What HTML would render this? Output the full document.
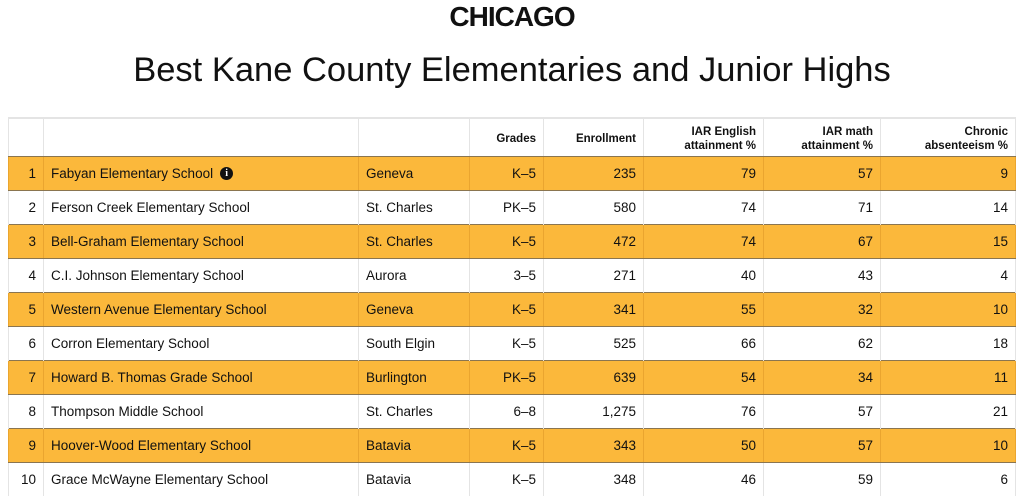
<!DOCTYPE html>
<html><head><meta charset="utf-8"><style>
html,body{margin:0;padding:0;background:#fff;width:1024px;height:497px;overflow:hidden;font-family:"Liberation Sans",sans-serif;color:#111}
.logo{position:absolute;top:1px;left:0;width:1024px;text-align:center;font-weight:bold;font-size:28px;letter-spacing:-1px;line-height:32px}
.title{position:absolute;top:50px;left:0;width:1024px;text-align:center;font-size:34.5px;line-height:40px;color:#111}
table{position:absolute;top:117px;left:8px;width:1007px;border-collapse:collapse;table-layout:fixed;font-size:13.5px}
th,td{border-left:1px solid #e4e4e4;border-right:1px solid #e4e4e4;padding:0 7px;white-space:nowrap;overflow:visible}
th{height:35px;font-size:11.5px;font-weight:bold;text-align:right;vertical-align:middle;line-height:14px;border-top:2px solid #e4e4e4;padding-top:2px;padding-bottom:0}
td{height:33px}
tr.o td{background:#fbb83b;border-top:1px solid #8a7550;border-bottom:1px solid #8a7550;border-left-color:#eaa52f;border-right-color:#eaa52f}
thead tr th{border-bottom:1px solid #8a7550}
.r{text-align:right}.l{text-align:left}
.i{display:inline-block;width:13px;height:13px;border-radius:50%;background:#111;color:#fff;font-size:10px;font-weight:bold;text-align:center;line-height:13px;margin-left:7px;vertical-align:middle;position:relative;top:-1px;font-family:"Liberation Serif",serif}
</style></head><body>
<div class="logo">CHICAGO</div>
<div class="title">Best Kane County Elementaries and Junior Highs</div>
<table>
<colgroup><col style="width:35px"><col style="width:315px"><col style="width:111px"><col style="width:74px"><col style="width:100px"><col style="width:120px"><col style="width:117px"><col style="width:135px"></colgroup>
<thead><tr><th></th><th></th><th></th><th>Grades</th><th>Enrollment</th><th>IAR English<br>attainment %</th><th>IAR math<br>attainment %</th><th>Chronic<br>absenteeism %</th></tr></thead>
<tbody>
<tr class="o"><td class="r">1</td><td>Fabyan Elementary School<span class="i">i</span></td><td>Geneva</td><td class="r">K–5</td><td class="r">235</td><td class="r">79</td><td class="r">57</td><td class="r">9</td></tr>
<tr><td class="r">2</td><td>Ferson Creek Elementary School</td><td>St. Charles</td><td class="r">PK–5</td><td class="r">580</td><td class="r">74</td><td class="r">71</td><td class="r">14</td></tr>
<tr class="o"><td class="r">3</td><td>Bell-Graham Elementary School</td><td>St. Charles</td><td class="r">K–5</td><td class="r">472</td><td class="r">74</td><td class="r">67</td><td class="r">15</td></tr>
<tr><td class="r">4</td><td>C.I. Johnson Elementary School</td><td>Aurora</td><td class="r">3–5</td><td class="r">271</td><td class="r">40</td><td class="r">43</td><td class="r">4</td></tr>
<tr class="o"><td class="r">5</td><td>Western Avenue Elementary School</td><td>Geneva</td><td class="r">K–5</td><td class="r">341</td><td class="r">55</td><td class="r">32</td><td class="r">10</td></tr>
<tr><td class="r">6</td><td>Corron Elementary School</td><td>South Elgin</td><td class="r">K–5</td><td class="r">525</td><td class="r">66</td><td class="r">62</td><td class="r">18</td></tr>
<tr class="o"><td class="r">7</td><td>Howard B. Thomas Grade School</td><td>Burlington</td><td class="r">PK–5</td><td class="r">639</td><td class="r">54</td><td class="r">34</td><td class="r">11</td></tr>
<tr><td class="r">8</td><td>Thompson Middle School</td><td>St. Charles</td><td class="r">6–8</td><td class="r">1,275</td><td class="r">76</td><td class="r">57</td><td class="r">21</td></tr>
<tr class="o"><td class="r">9</td><td>Hoover-Wood Elementary School</td><td>Batavia</td><td class="r">K–5</td><td class="r">343</td><td class="r">50</td><td class="r">57</td><td class="r">10</td></tr>
<tr><td class="r">10</td><td>Grace McWayne Elementary School</td><td>Batavia</td><td class="r">K–5</td><td class="r">348</td><td class="r">46</td><td class="r">59</td><td class="r">6</td></tr>
</tbody></table>
</body></html>
